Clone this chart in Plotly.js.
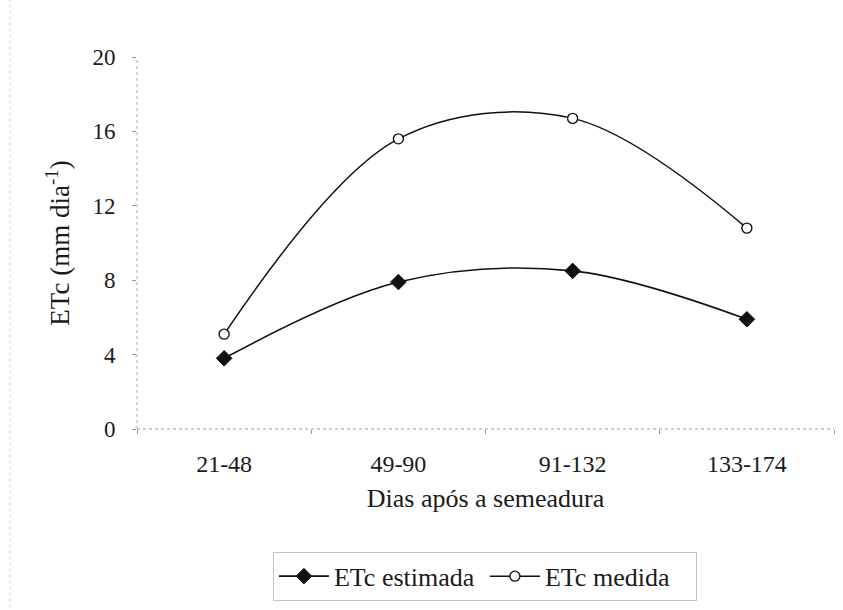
<!DOCTYPE html>
<html>
<head>
<meta charset="utf-8">
<script src="https://cdn.plot.ly/plotly-3.0.1.min.js"></script>
<style>html,body{margin:0;padding:0;background:#fff;}#chart{width:843px;height:610px;}</style>
</head>
<body>
<div id="chart"></div>
<script>
const categories = ["21-48", "49-90", "91-132", "133-174"];
const etcEstimada = [3.8, 7.9, 8.5, 5.9];
const etcMedida = [5.1, 15.6, 16.7, 10.8];
const yTicks = [0, 4, 8, 12, 16, 20];

const FAM = "Liberation Serif";
const mk = (s) => ({family: FAM, size: s, color: "#1a1a1a"});

const traces = [
  {
    x: categories, y: etcEstimada, name: "ETc estimada", type: "scatter", mode: "lines+markers",
    line: {color: "#111", width: 1.6, shape: "spline", smoothing: 1},
    marker: {symbol: "diamond", size: 12, color: "#111", line: {color: "#111", width: 1}}
  },
  {
    x: categories, y: etcMedida, name: "ETc medida", type: "scatter", mode: "lines+markers",
    line: {color: "#111", width: 1.5, shape: "spline", smoothing: 1},
    marker: {symbol: "circle", size: 10, color: "#fff", line: {color: "#111", width: 1.4}}
  }
];

const layout = {
  width: 843, height: 610,
  paper_bgcolor: "#fff", plot_bgcolor: "#fff",
  margin: {l: 137, r: 9, t: 57, b: 179},
  font: mk(22),
  showlegend: true,
  legend: {
    orientation: "h", x: 0.195, xanchor: "left", y: -0.33, yanchor: "top",
    bordercolor: "#c4c4c4", borderwidth: 1, bgcolor: "rgba(0,0,0,0)",
    font: mk(26), itemwidth: 50, entrywidth: 146, entrywidthmode: "pixels", tracegroupgap: 0
  },
  xaxis: {
    type: "category", range: [-0.5, 3.5],
    showline: false,
    ticks: "outside", tickson: "boundaries", ticklen: 4, tickcolor: "#999",
    showgrid: false, zeroline: false,
    tickfont: mk(24),
    ticklabelstandoff: 18,
    title: {text: "Dias após a semeadura", font: mk(26), standoff: 12}
  },
  yaxis: {
    range: [0, 20], tickvals: yTicks, ticktext: yTicks.map(String),
    showline: false,
    ticks: "outside", ticklen: 4, tickcolor: "#999",
    showgrid: false, zeroline: false,
    tickfont: mk(23),
    ticklabelstandoff: 12,
    title: {text: "ETc (mm dia<sup>-1</sup>)", font: mk(27), standoff: 14}
  },
  shapes: [
    {type: "line", xref: "paper", yref: "paper", x0: 0, x1: 1, y0: 0, y1: 0,
     line: {color: "#999", width: 1, dash: "dot"}, layer: "below"},
    {type: "line", xref: "paper", yref: "paper", x0: 0, x1: 0, y0: 0, y1: 1,
     line: {color: "#aaa", width: 1, dash: "dot"}, layer: "below"},
    {type: "line", xref: "paper", yref: "paper", x0: -0.182, x1: -0.182, y0: -0.48, y1: 1.153,
     line: {color: "#d2d2d2", width: 1, dash: "dot"}, layer: "below"}
  ]
};

Plotly.newPlot("chart", traces, layout, {displayModeBar: false, staticPlot: true});
</script>
</body>
</html>
